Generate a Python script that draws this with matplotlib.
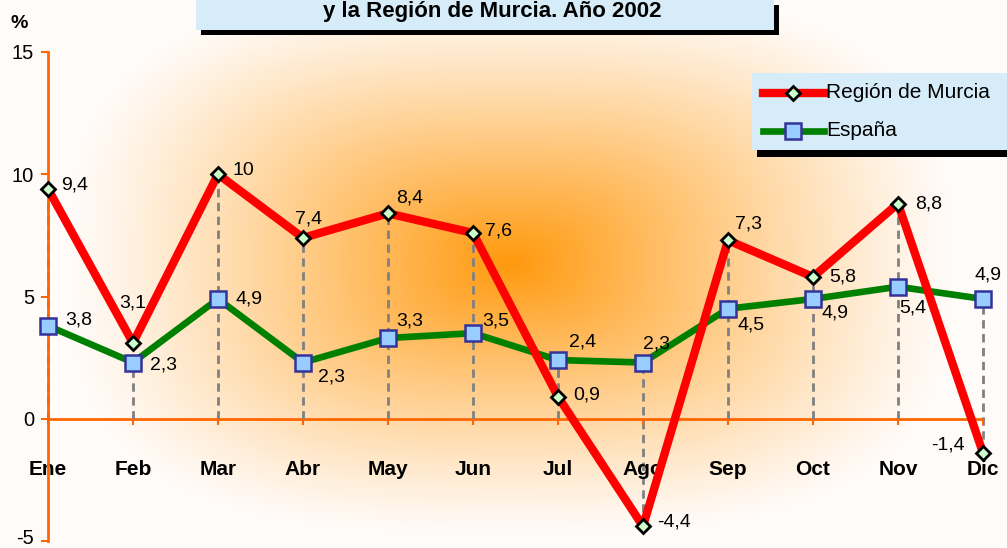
import numpy as np
import matplotlib
matplotlib.use("Agg")
import matplotlib.pyplot as plt
from matplotlib.lines import Line2D
from matplotlib.patches import Rectangle
from matplotlib.transforms import ScaledTranslation

# ---- data ----
months = ["Ene", "Feb", "Mar", "Abr", "May", "Jun", "Jul", "Ago", "Sep", "Oct", "Nov", "Dic"]
murcia = [9.4, 3.1, 10, 7.4, 8.4, 7.6, 0.9, -4.4, 7.3, 5.8, 8.8, -1.4]
espana = [3.8, 2.3, 4.9, 2.3, 3.3, 3.5, 2.4, 2.3, 4.5, 4.9, 5.4, 4.9]
yticks = [-5, 0, 5, 10, 15]
title_text = "y la Región de Murcia. Año 2002"
series_names = ["Región de Murcia", "España"]

# label offsets in pixels (dx, dy, ha)
murcia_off = [(13, 4, "left"), (0, 40, "center"), (14, 4, "left"), (6, 19, "center"),
              (8, 15, "left"), (12, 2, "left"), (15, 2, "left"), (14, 4, "left"),
              (7, 16, "left"), (16, 0, "left"), (17, 0, "left"), (-18, 8, "right")]
espana_off = [(17, 6, "left"), (17, -2, "left"), (18, 0, "left"), (15, -14, "left"),
              (8, 17, "left"), (9, 12, "left"), (11, 18, "left"), (13, 19, "center"),
              (9, -16, "left"), (9, -14, "left"), (15, -21, "center"), (5, 24, "center")]

FONT = "Liberation Sans"
plt.rcParams["font.family"] = [FONT, "DejaVu Sans"]

W, H = 1007, 548
fig = plt.figure(figsize=(W / 100, H / 100), dpi=100)

# ---- background gradient (rounded rectangular, from centre) ----
bg = fig.add_axes([0, 0, 1, 1], zorder=0)
yy, xx = np.mgrid[0:H, 0:W]
cx, cy, rx, ry, p = 510, 262, 440, 270, 3.0
t = (np.abs((xx - cx) / rx) ** p + np.abs((yy - cy) / ry) ** p) ** (1 / p)
f = np.clip(1 - t, 0, 1) ** 1.15
orange = np.array([1.0, 0.60, 0.05])
img = (1 - f[..., None]) * np.array([1.0, 0.985, 0.975]) + f[..., None] * orange
bg.imshow(img, extent=(0, W, H, 0), aspect="auto", interpolation="bilinear")
bg.set_xlim(0, W)
bg.set_ylim(H, 0)
bg.axis("off")

# ---- main axes ----
L, R, T, B = 48, 983, 52, 541
ax = fig.add_axes([L / W, 1 - B / H, (R - L) / W, (B - T) / H], zorder=2)
ax.patch.set_alpha(0)
x = np.arange(len(months))
ax.set_xlim(0, len(months) - 1)
ax.set_ylim(-5, 15)

OR = "#FF6600"
for s in ["top", "right"]:
    ax.spines[s].set_visible(False)
ax.spines["left"].set_color(OR)
ax.spines["left"].set_linewidth(2)
ax.spines["bottom"].set_position(("data", 0))
ax.spines["bottom"].set_color(OR)
ax.spines["bottom"].set_linewidth(2)
ax.spines["bottom"].set_zorder(1)

ax.set_yticks(yticks)
ax.set_yticklabels([str(v) for v in yticks], fontsize=14.5)
ax.tick_params(axis="y", direction="out", length=5, width=1.5, color=OR, pad=5)
ax.set_xticks(x)
ax.set_xticklabels(months, fontsize=15, fontweight="bold")
ax.tick_params(axis="x", direction="out", length=4.5, width=1.5, color=OR, pad=25)
lbl = ax.get_yticklabels()[0]
lbl.set_transform(lbl.get_transform() + ScaledTranslation(0, 0.04, fig.dpi_scale_trans))

# drop lines
for i in range(len(months)):
    top = max(murcia[i], espana[i], 0)
    bot = min(murcia[i], espana[i], 0)
    ax.plot([x[i], x[i]], [bot, top], color="#808080", lw=2, ls=(0, (3, 2)), zorder=1.5,
            clip_on=False)

ax.plot(x, espana, color="#008000", lw=4.8, marker="s", ms=11.5, mfc="#99CCFF",
        mec="#333399", mew=1.8, zorder=3, clip_on=False)
ax.plot(x, murcia, color="#FF0000", lw=6, marker="D", ms=7, mfc="#CCFFCC",
        mec="black", mew=2, zorder=4, clip_on=False)

def put_labels(vals, offs):
    for i, v in enumerate(vals):
        dx, dy, ha = offs[i]
        ax.annotate(f"{v:g}".replace(".", ","), (x[i], v), xytext=(dx * 0.72, dy * 0.72),
                    textcoords="offset points", ha=ha, va="center", fontsize=14,
                    zorder=5, annotation_clip=False)

put_labels(murcia, murcia_off)
put_labels(espana, espana_off)

# ---- overlay (pixel coordinates) for title box, legend and % ----
ov = fig.add_axes([0, 0, 1, 1], zorder=6)
ov.set_xlim(0, W)
ov.set_ylim(H, 0)
ov.axis("off")
ov.patch.set_alpha(0)

BOX = "#D6ECF8"
# title box with shadow
ov.add_patch(Rectangle((201, 5), 578, 30, facecolor="black", edgecolor="none"))
ov.add_patch(Rectangle((196, -2), 578, 32, facecolor=BOX, edgecolor="none"))
ov.text(492, 11, title_text, ha="center", va="center", fontsize=16, fontweight="bold")

ov.text(19, 23, "%", ha="center", va="center", fontsize=14, fontweight="bold")

# legend box with shadow
ov.add_patch(Rectangle((757, 78), 260, 79, facecolor="black", edgecolor="none"))
ov.add_patch(Rectangle((752, 73), 260, 77, facecolor=BOX, edgecolor="none"))
legend_rows = [(93, "#FF0000", 6, "D", 7, "#CCFFCC", "black", 2),
               (131, "#008000", 4.8, "s", 11.5, "#99CCFF", "#333399", 1.8)]
for name, (yy0, c, lw, m, ms, mfc, mec, mew) in zip(series_names, legend_rows):
    ov.add_line(Line2D([763, 824], [yy0, yy0], color=c, lw=lw))
    ov.add_line(Line2D([793], [yy0], marker=m, ms=ms, mfc=mfc, mec=mec, mew=mew, lw=0))
    ov.text(826, yy0, name, ha="left", va="center", fontsize=15)

fig.savefig("out.png", dpi=100)
